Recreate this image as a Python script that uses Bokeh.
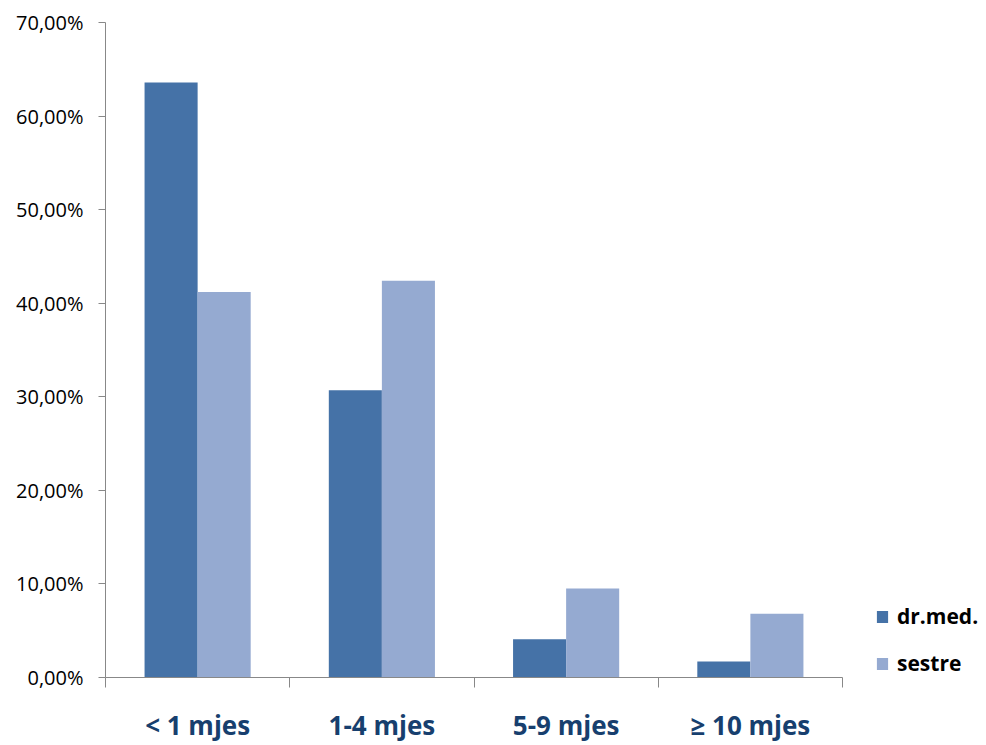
from bokeh.plotting import figure
from bokeh.models import FixedTicker, Legend, LegendItem, ColumnDataSource
from bokeh.transform import dodge
from bokeh.embed import file_html
from bokeh.resources import INLINE
import numpy as np

categories = ["< 1 mjes", "1-4 mjes", "5-9 mjes", "\u2265 10 mjes"]
dr_med = [63.6, 30.7, 4.1, 1.7]
sestre = [41.2, 42.4, 9.5, 6.8]
y_ticks = [0, 10, 20, 30, 40, 50, 60, 70]
y_labels = ["0,00%", "10,00%", "20,00%", "30,00%", "40,00%", "50,00%", "60,00%", "70,00%"]

FONT = "Open Sans"
DARK = "#4572A7"
LIGHT = "#95AAD1"
AXIS = "#888888"

W, H = 986, 745
LEFT, TOP, BOTTOM = 105, 22, 67
PLOT_W = 737  # width of the category area in px
n = len(categories)
x_end = n * (W - LEFT) / PLOT_W   # frame extends right to host the legend

pos = list(np.arange(n) + 0.5)
src = ColumnDataSource(dict(x=pos, dr=dr_med, se=sestre))

p = figure(width=W, height=H, output_backend="svg", toolbar_location=None,
           x_range=(0, x_end), y_range=(0, 70),
           min_border_left=LEFT, min_border_right=0, min_border_top=TOP, min_border_bottom=BOTTOM)
p.outline_line_color = None
p.xgrid.visible = False
p.ygrid.visible = False
p.background_fill_color = "white"
p.border_fill_color = "white"

bw = 0.288
r1 = p.vbar(x=dodge("x", -bw / 2, range=p.x_range), top="dr", width=bw, source=src,
            fill_color=DARK, line_color=None)
r2 = p.vbar(x=dodge("x", bw / 2, range=p.x_range), top="se", width=bw, source=src,
            fill_color=LIGHT, line_color=None)

# y axis
ya = p.yaxis[0]
ya.ticker = FixedTicker(ticks=y_ticks, minor_ticks=[])
ya.major_label_overrides = {t: l for t, l in zip(y_ticks, y_labels)}
ya.axis_line_color = AXIS
ya.major_tick_line_color = AXIS
ya.major_tick_out = 7
ya.major_tick_in = 0
ya.minor_tick_line_color = None
ya.major_label_text_font = FONT
ya.major_label_text_font_size = "20px"
ya.major_label_text_color = "#000000"
ya.major_label_standoff = 15

# x axis
xa = p.xaxis[0]
xa.bounds = (0, n)
xa.ticker = FixedTicker(ticks=pos, minor_ticks=list(range(n + 1)))
xa.major_label_overrides = {float(t): c for t, c in zip(pos, categories)}
xa.axis_line_color = AXIS
xa.major_tick_line_color = None
xa.major_tick_out = 0
xa.major_tick_in = 0
xa.minor_tick_line_color = AXIS
xa.minor_tick_out = 10
xa.minor_tick_in = 0
xa.major_label_text_font = FONT
xa.major_label_text_font_style = "bold"
xa.major_label_text_font_size = "26px"
xa.major_label_text_color = "#173F6E"
xa.major_label_standoff = 19

legend = Legend(items=[LegendItem(label="dr.med.", renderers=[r1]),
                       LegendItem(label="sestre", renderers=[r2])],
                location=(770, 0), orientation="vertical")
legend.border_line_color = None
legend.background_fill_alpha = 0
legend.padding = 0
legend.margin = 0
legend.spacing = 19
legend.glyph_width = 14
legend.glyph_height = 15
legend.label_height = 20
legend.label_standoff = 8
legend.label_text_font = FONT
legend.label_text_font_style = "bold"
legend.label_text_font_size = "21px"
legend.label_text_color = "#000000"
p.add_layout(legend, "center")

open("out.html", "w").write(file_html(p, INLINE))
